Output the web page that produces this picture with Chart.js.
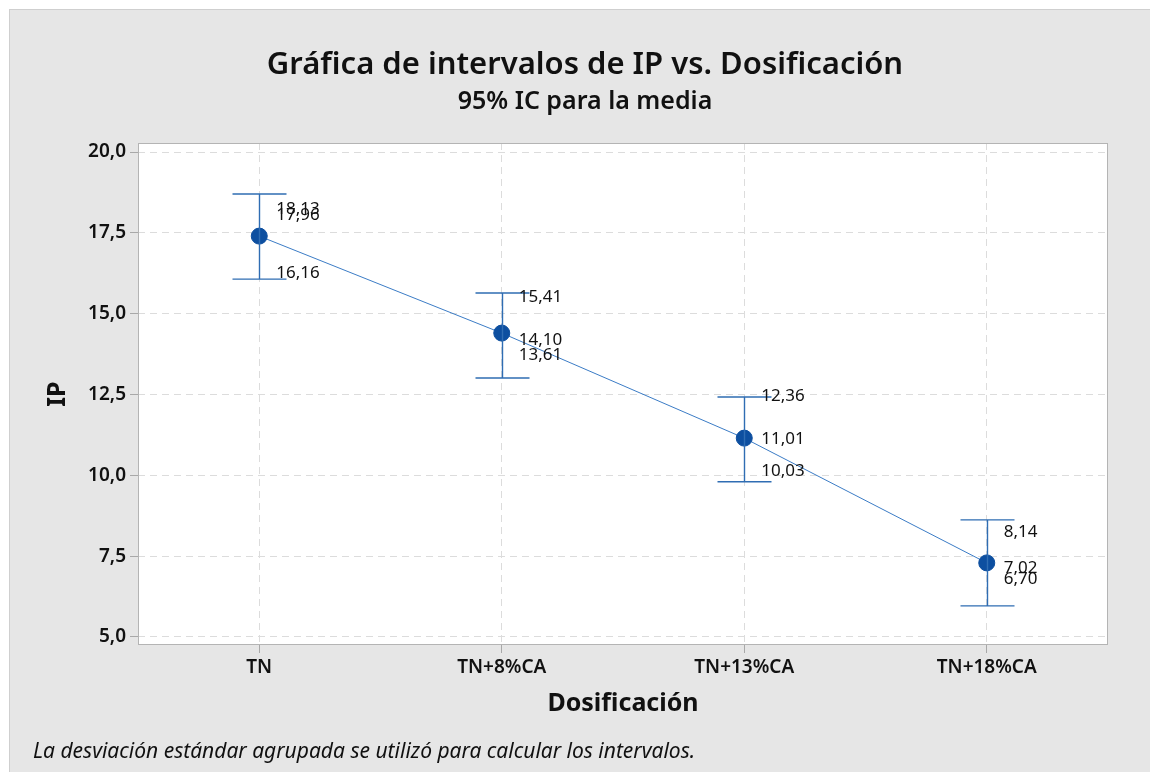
<!DOCTYPE html>
<html>
<head>
<meta charset="utf-8">
<script src="https://cdn.jsdelivr.net/npm/chart.js@4"></script>
<style>
  html, body { margin: 0; padding: 0; background: #fff; }
  #wrap { width: 1150px; height: 772px; }
</style>
</head>
<body>
<div id="wrap"><canvas id="chart" width="1150" height="772"></canvas></div>
<script>
// Datos
const categorias = ['TN', 'TN+8%CA', 'TN+13%CA', 'TN+18%CA'];
const medias = [17.40, 14.40, 11.15, 7.29];
const icInferior = [16.07, 13.01, 9.80, 5.96];
const icSuperior = [18.70, 15.64, 12.42, 8.62];
// Etiquetas de datos tal como aparecen
const etiquetaSuperior = [18.13, 15.41, 12.36, 8.14];
const etiquetaMedia = [17.96, 14.10, 11.01, 7.02];
const etiquetaInferior = [16.16, 13.61, 10.03, 6.70];
const ticksY = [5, 7.5, 10, 12.5, 15, 17.5, 20];

const FUENTE = '"Noto Sans", "Open Sans", sans-serif';
const coma = v => v.toFixed(2).replace('.', ',');

// Fondo gris y marco del área de trazado
const fondo = {
  id: 'fondo',
  beforeDraw(chart) {
    const { ctx, chartArea: a } = chart;
    ctx.save();
    ctx.fillStyle = '#ffffff';
    ctx.fillRect(0, 0, chart.width, chart.height);
    ctx.fillStyle = '#e6e6e6';
    ctx.fillRect(9, 9, chart.width - 9, chart.height - 9);
    ctx.strokeStyle = '#cfcfcf';
    ctx.lineWidth = 1;
    ctx.strokeRect(9.5, 9.5, chart.width, chart.height);
    ctx.fillStyle = '#ffffff';
    ctx.fillRect(a.left, a.top, a.right - a.left, a.bottom - a.top);
    ctx.restore();
  },
  afterDraw(chart) {
    const { ctx, chartArea: a } = chart;
    ctx.save();
    ctx.strokeStyle = '#b4b4b4';
    ctx.lineWidth = 1;
    ctx.strokeRect(a.left + 0.5, a.top + 0.5, a.right - a.left - 1, a.bottom - a.top - 1);

    // Títulos
    ctx.fillStyle = '#111';
    ctx.textAlign = 'center';
    ctx.textBaseline = 'middle';
    ctx.font = '600 31px ' + FUENTE;
    ctx.fillText('Gráfica de intervalos de IP vs. Dosificación', 585, 65);
    ctx.font = '600 25px ' + FUENTE;
    ctx.fillText('95% IC para la media', 585, 102);
    ctx.font = 'bold 25px ' + FUENTE;
    ctx.fillText('Dosificación', 623, 704);
    ctx.save();
    ctx.translate(58, 394);
    ctx.rotate(-Math.PI / 2);
    ctx.fillText('IP', 0, 0);
    ctx.restore();
    ctx.textAlign = 'left';
    ctx.font = 'italic 21px ' + FUENTE;
    ctx.fillText('La desviación estándar agrupada se utilizó para calcular los intervalos.', 33, 752);
    ctx.restore();
  }
};

// Barras de error y etiquetas
const intervalos = {
  id: 'intervalos',
  afterDatasetsDraw(chart) {
    const { ctx, scales: { x, y } } = chart;
    ctx.save();
    ctx.strokeStyle = '#2f6db3';
    ctx.lineWidth = 1.4;
    categorias.forEach((c, i) => {
      const px = Math.round(x.getPixelForValue(i)) + 0.5;
      const top = y.getPixelForValue(icSuperior[i]);
      const bot = y.getPixelForValue(icInferior[i]);
      ctx.beginPath();
      ctx.moveTo(px, top); ctx.lineTo(px, bot);
      ctx.moveTo(px - 27, top); ctx.lineTo(px + 27, top);
      ctx.moveTo(px - 27, bot); ctx.lineTo(px + 27, bot);
      ctx.stroke();
    });
    ctx.fillStyle = '#111';
    ctx.font = '17px ' + FUENTE;
    ctx.textAlign = 'left';
    ctx.textBaseline = 'middle';
    categorias.forEach((c, i) => {
      const px = x.getPixelForValue(i) + 17;
      [etiquetaSuperior[i], etiquetaMedia[i], etiquetaInferior[i]].forEach(v => {
        ctx.fillText(coma(v), px, y.getPixelForValue(v) - 3);
      });
    });
    ctx.restore();
  }
};

new Chart(document.getElementById('chart'), {
  type: 'line',
  data: {
    labels: categorias,
    datasets: [{
      label: 'IP',
      data: medias,
      borderColor: '#3b7cc6',
      borderWidth: 1,
      pointRadius: 8,
      pointHoverRadius: 8,
      pointBackgroundColor: '#0d4fa0',
      pointBorderColor: '#0d4fa0',
      tension: 0
    }]
  },
  options: {
    responsive: false,
    animation: false,
    layout: { padding: { top: 143, right: 42, left: 0, bottom: 0 } },
    plugins: { legend: { display: false }, tooltip: { enabled: false } },
    scales: {
      x: {
        offset: true,
        grid: {
          offset: false,
          color: '#dcdcdc',
          tickColor: '#a8a8a8',
          tickLength: 8
        },
        border: { display: false, dash: [7, 5] },
        ticks: { color: '#111', font: { family: FUENTE, size: 19, weight: '600' }, padding: 3 },
        afterFit(scale) { scale.height = 127; }
      },
      y: {
        min: 4.75,
        max: 20.28,
        afterBuildTicks(scale) { scale.ticks = ticksY.map(v => ({ value: v })); },
        grid: {
          color: '#dcdcdc',
          tickColor: '#a8a8a8',
          tickLength: 8
        },
        border: { display: false, dash: [7, 5] },
        ticks: {
          color: '#111',
          font: { family: FUENTE, size: 19, weight: '600' },
          padding: 4,
          callback: v => v.toFixed(1).replace('.', ',')
        },
        afterFit(scale) { scale.width = 138; }
      }
    }
  },
  plugins: [fondo, intervalos]
});
</script>
</body>
</html>
